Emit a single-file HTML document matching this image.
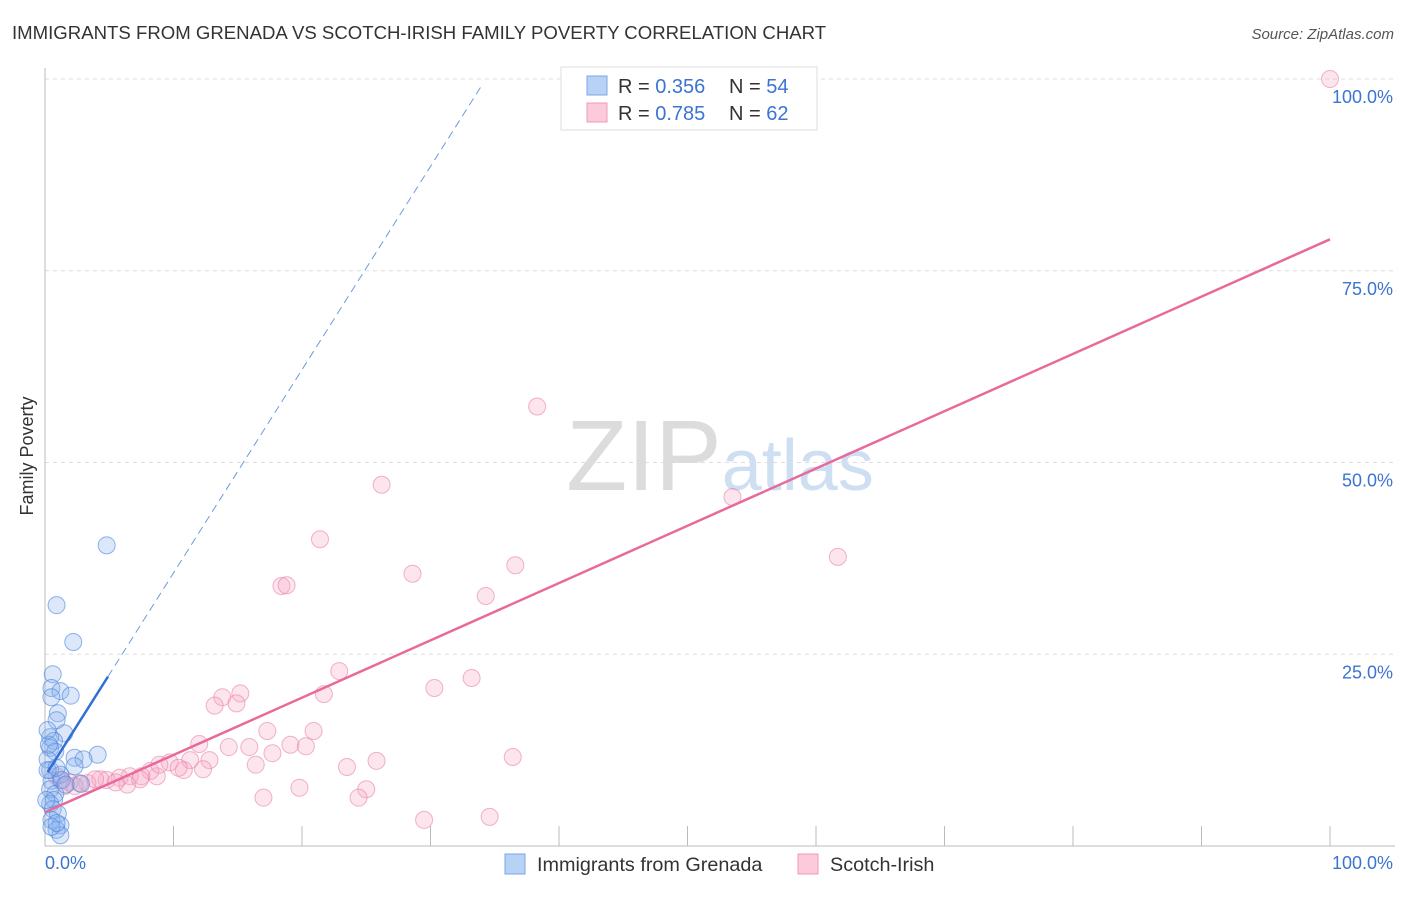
<!DOCTYPE html>
<html><head><meta charset="utf-8">
<style>
body{margin:0;background:#fff;font-family:"Liberation Sans",sans-serif;}
svg text{font-family:"Liberation Sans",sans-serif;}
</style></head>
<body>
<svg id="chart" width="1406" height="892" xmlns="http://www.w3.org/2000/svg">
<text x="12" y="39" font-size="18.6" fill="#333">IMMIGRANTS FROM GRENADA VS SCOTCH-IRISH FAMILY POVERTY CORRELATION CHART</text>
<text x="1394" y="39" font-size="15" fill="#555" text-anchor="end" font-style="italic">Source: ZipAtlas.com</text>
<text transform="translate(33,456) rotate(-90)" font-size="18" fill="#333" text-anchor="middle">Family Poverty</text>
<text x="720" y="490" font-size="100" fill="#ddd" text-anchor="middle" font-family="Liberation Serif"><tspan fill="#dcdcdc">ZIP</tspan><tspan fill="#cfdff2" font-family="Liberation Sans" font-size="72">atlas</tspan></text>
<g id="grid"></g><g id="marks"></g>
<g>
<rect x="561" y="67" width="256" height="63" fill="#fff" stroke="#ddd"/>
<rect x="587" y="76" width="20" height="19" fill="#b7d2f5" stroke="#7aa7e8"/>
<rect x="587" y="103" width="20" height="19" fill="#fccadb" stroke="#f19ab8"/>
<text x="618" y="93" font-size="20" fill="#333">R = <tspan fill="#3b74d1">0.356</tspan></text>
<text x="729" y="93" font-size="20" fill="#333">N = <tspan fill="#3b74d1">54</tspan></text>
<text x="618" y="120" font-size="20" fill="#333">R = <tspan fill="#3b74d1">0.785</tspan></text>
<text x="729" y="120" font-size="20" fill="#333">N = <tspan fill="#3b74d1">62</tspan></text>
</g>
<g>
<rect x="505" y="854" width="20" height="20" fill="#b7d2f5" stroke="#7aa7e8"/>
<text x="537" y="871" font-size="19.8" fill="#333">Immigrants from Grenada</text>
<rect x="798" y="854" width="20" height="20" fill="#fccadb" stroke="#f19ab8"/>
<text x="830" y="871" font-size="19.8" fill="#333">Scotch-Irish</text>
</g>
</svg>
<script>
const yTicks=[25,50,75,100];
const yTickLabels=["25.0%","50.0%","75.0%","100.0%"];
const blueX=[4.8,0.9,2.2,0.6,0.5,1.2,2.0,0.5,1.0,0.9,1.5,0.4,0.7,0.4,0.8,4.1,2.3,3.0,0.2,2.3,0.4,1.2,0.5,2.8,0.4,0.8,0.7,0.4,0.6,1.0,0.5,1.2,0.9,1.2,0.2,0.3,0.2,1.3,0.9,1.6,0.1,0.5,0.9];
const blueY=[39.2,31.4,26.6,22.4,20.6,20.2,19.6,19.4,17.3,16.4,14.7,14.2,13.7,12.8,12.3,11.9,11.5,11.3,11.3,10.4,9.9,9.3,8.5,8.1,7.4,6.8,6.0,5.5,4.8,4.2,3.4,2.7,2.1,1.4,9.9,13.2,15.1,8.6,10.2,8.0,6.0,2.5,3.0];
const pinkX=[100,38.3,26.2,53.5,21.4,61.7,36.6,28.6,18.4,18.8,34.3,22.9,33.2,30.3,21.7,15.2,13.8,14.9,13.2,17.3,20.9,12.0,14.3,15.9,19.1,20.3,17.7,36.4,25.8,23.5,12.8,16.4,11.3,10.8,9.7,12.3,8.7,8.2,7.5,6.6,5.8,4.8,4.3,3.3,2.7,1.9,1.2,0.9,1.5,2.3,6.4,8.9,5.5,17.0,19.8,25.0,24.4,29.5,34.6,7.4,3.9,10.4];
const pinkY=[100,57.3,47.1,45.5,40.0,37.7,36.6,35.5,33.9,34.0,32.6,22.8,21.9,20.6,19.8,19.9,19.4,18.6,18.3,15.0,15.0,13.3,12.9,12.9,13.2,13.0,12.1,11.6,11.1,10.3,11.2,10.6,11.2,9.9,10.9,10.0,9.1,9.8,9.1,9.1,8.9,8.6,8.7,8.2,8.2,8.3,8.6,9.1,7.8,7.8,8.0,10.6,8.3,6.3,7.6,7.4,6.3,3.4,3.8,8.7,8.7,10.2];
const blueTrend=[9.1,2.65];
const pinkTrend=[4.4,0.747];
const X=v=>45+v*12.85, Y=v=>846-v*7.67;
const NS="http://www.w3.org/2000/svg";
function mk(p,t,a){const e=document.createElementNS(NS,t);for(const k in a)e.setAttribute(k,a[k]);p.appendChild(e);return e;}
const g=document.getElementById('grid'), m=document.getElementById('marks');
yTicks.forEach((t,i)=>{
 const l=mk(g,'line',{x1:45,x2:1395,y1:Y(t),y2:Y(t),stroke:'#ddd','stroke-dasharray':'4,4'});
 
 
 const tx=mk(g,'text',{x:1393,y:Y(t)+24,'font-size':18,fill:'#3b74d1','text-anchor':'end'});tx.textContent=yTickLabels[i];
 
 
});
const ax=mk(g,'line',{x1:45,x2:45,y1:68,y2:846,stroke:'#bbb'});


const bx=mk(g,'line',{x1:45,x2:1395,y1:846,y2:846,stroke:'#bbb'});


for(let i=1;i<=10;i++){const t=mk(g,'line',{x1:X(i*10),x2:X(i*10),y1:826,y2:846,stroke:'#bbb'});
 
 }
[[0,'0.0%','start',45],[100,'100.0%','end',1393]].forEach(a=>{const t=mk(g,'text',{x:a[3],y:869,'font-size':18,fill:'#3b74d1','text-anchor':a[2]});t.textContent=a[1];
 
 });
pinkX.forEach((v,i)=>{const c=mk(m,'circle',{cx:X(v),cy:Y(pinkY[i]),r:8.5,fill:'rgba(247,170,198,0.3)',stroke:'rgba(232,130,165,0.6)'});
 
 });
blueX.forEach((v,i)=>{const c=mk(m,'circle',{cx:X(v),cy:Y(blueY[i]),r:8.5,fill:'rgba(140,180,240,0.3)',stroke:'rgba(70,130,220,0.6)'});
 
 });
const pl=mk(m,'line',{x1:X(0),y1:Y(pinkTrend[0]),x2:X(100),y2:Y(pinkTrend[0]+100*pinkTrend[1]),stroke:'#e8699a','stroke-width':2.5});


const bl=mk(m,'line',{x1:X(0.2),y1:Y(blueTrend[0]+0.2*blueTrend[1]),x2:X(4.9),y2:Y(blueTrend[0]+4.9*blueTrend[1]),stroke:'#2f6fd6','stroke-width':2.5});


const bd=mk(m,'line',{x1:X(4.9),y1:Y(blueTrend[0]+4.9*blueTrend[1]),x2:X(34),y2:Y(blueTrend[0]+34*blueTrend[1]),stroke:'#6a9be0','stroke-width':1,'stroke-dasharray':'8,5'});


</script>
</body></html>
